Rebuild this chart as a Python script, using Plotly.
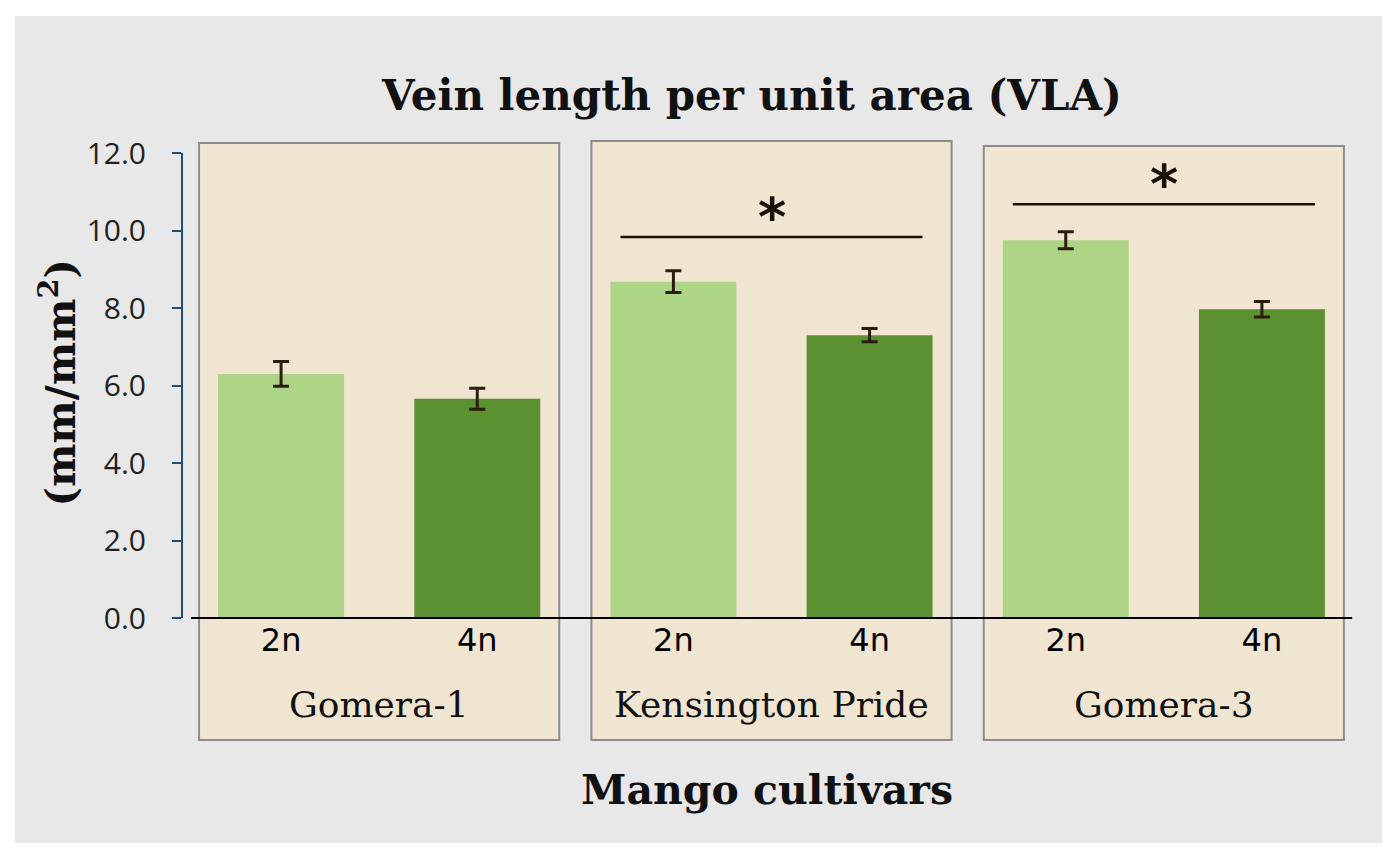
import plotly.graph_objects as go

# values (mm/mm2)
cultivars = ["Gomera-1", "Kensington Pride", "Gomera-3"]
ploidy = ["2n", "4n"]
vla_2n = [6.30, 8.68, 9.75]
vla_4n = [5.66, 7.30, 7.97]
err_2n = [0.32, 0.28, 0.22]
err_4n = [0.27, 0.17, 0.20]

# significance bars: cultivar index and height of the bracket line
sig_cultivar = [1, 2]
sig_height = [9.83, 10.68]
sig_label = ["*", "*"]

y_ticks = [0, 2, 4, 6, 8, 10, 12]

cats_2n = [c + " 2n" for c in cultivars]
cats_4n = [c + " 4n" for c in cultivars]
cat_order = [c for pair in zip(cats_2n, cats_4n) for c in pair]

LIGHT = '#aed486'
DARK = '#5b9131'
ERR = '#2b1d0e'
AXIS_BLUE = '#1f4e79'
SERIF = 'DejaVu Serif'

fig = go.Figure()
fig.add_trace(go.Bar(
    x=cats_2n, y=vla_2n, width=0.642, name='2n',
    marker=dict(color=LIGHT, line=dict(width=0)),
    error_y=dict(type='data', array=err_2n, color=ERR, thickness=3, width=8)
))
fig.add_trace(go.Bar(
    x=cats_4n, y=vla_4n, width=0.642, name='4n',
    marker=dict(color=DARK, line=dict(width=0)),
    error_y=dict(type='data', array=err_4n, color=ERR, thickness=3, width=8)
))

shapes = [
    # outer grey frame
    dict(type='rect', xref='paper', yref='paper', layer='below',
         x0=-0.1427, x1=1.0187, y0=-0.4839, y1=1.2946,
         fillcolor='#e8e8e8', line=dict(width=0)),
]
panel_tops = [1.0215, 1.0258, 1.015]
for g in range(len(cultivars)):
    c = 2 * g + 0.5
    shapes.append(dict(type='rect', xref='x', yref='paper', layer='below',
                       x0=c - 0.918, x1=c + 0.918, y0=-0.2624, y1=panel_tops[g],
                       fillcolor='#efe5d1', line=dict(color='#8c8c8c', width=2)))
# baseline
shapes.append(dict(type='line', xref='x', yref='paper', x0=-0.46, x1=5.46, y0=0, y1=0,
                   line=dict(color='black', width=2)))

annotations = []
for g, h, lab in zip(sig_cultivar, sig_height, sig_label):
    c = 2 * g + 0.5
    shapes.append(dict(type='line', xref='x', yref='y', x0=c - 0.77, x1=c + 0.77,
                       y0=h, y1=h, line=dict(color='#1a1208', width=2.5)))
    annotations.append(dict(x=c, y=h + 0.5, xref='x', yref='y', text='<b>' + lab + '</b>',
                            showarrow=False, yanchor='middle',
                            font=dict(family='DejaVu Sans', size=54, color='#1a1208')))

for g, name in enumerate(cultivars):
    annotations.append(dict(x=2 * g + 0.5, y=-0.185, xref='x', yref='paper', text=name,
                            showarrow=False, yanchor='middle',
                            font=dict(family=SERIF, size=36, color='#111')))

annotations += [
    dict(x=0.4834, y=1.1247, xref='paper', yref='paper', showarrow=False,
         text='<b>Vein length per unit area (VLA)</b>', yanchor='middle',
         font=dict(family=SERIF, size=42, color='#111')),
    dict(x=0.496, y=-0.37, xref='paper', yref='paper', showarrow=False,
         text='<b>Mango cultivars</b>', yanchor='middle',
         font=dict(family=SERIF, size=41, color='#111')),
    dict(x=-0.106, y=0.505, xref='paper', yref='paper', showarrow=False,
         text='<b>(mm/mm<sup>2</sup>)</b>', textangle=-90,
         xanchor='center', yanchor='middle',
         font=dict(family=SERIF, size=41, color='#111')),
]

# page body adds an 8px margin, so the figure is 16px smaller and margins shifted
fig.update_layout(
    width=1384, height=840,
    margin=dict(l=175, r=32, t=145, b=230),
    paper_bgcolor='white',
    plot_bgcolor='rgba(0,0,0,0)',
    barmode='overlay',
    showlegend=False,
    shapes=shapes,
    annotations=annotations,
    xaxis=dict(
        type='category', categoryorder='array', categoryarray=cat_order,
        range=[-0.5, 5.5], tickvals=cat_order, ticktext=ploidy * len(cultivars),
        showline=False, showgrid=False, zeroline=False, ticks='',
        tickfont=dict(family='DejaVu Sans', size=32, color='#000'),
    ),
    yaxis=dict(
        range=[0, 12], tickvals=y_ticks, tickformat='.1f',
        showline=True, linecolor=AXIS_BLUE, linewidth=2,
        ticks='outside', ticklen=9, tickwidth=2, tickcolor=AXIS_BLUE,
        showgrid=False, zeroline=False, ticklabelstandoff=20,
        tickfont=dict(family='Open Sans', size=30, color='#222'),
    ),
)

fig.write_html("out.html")
